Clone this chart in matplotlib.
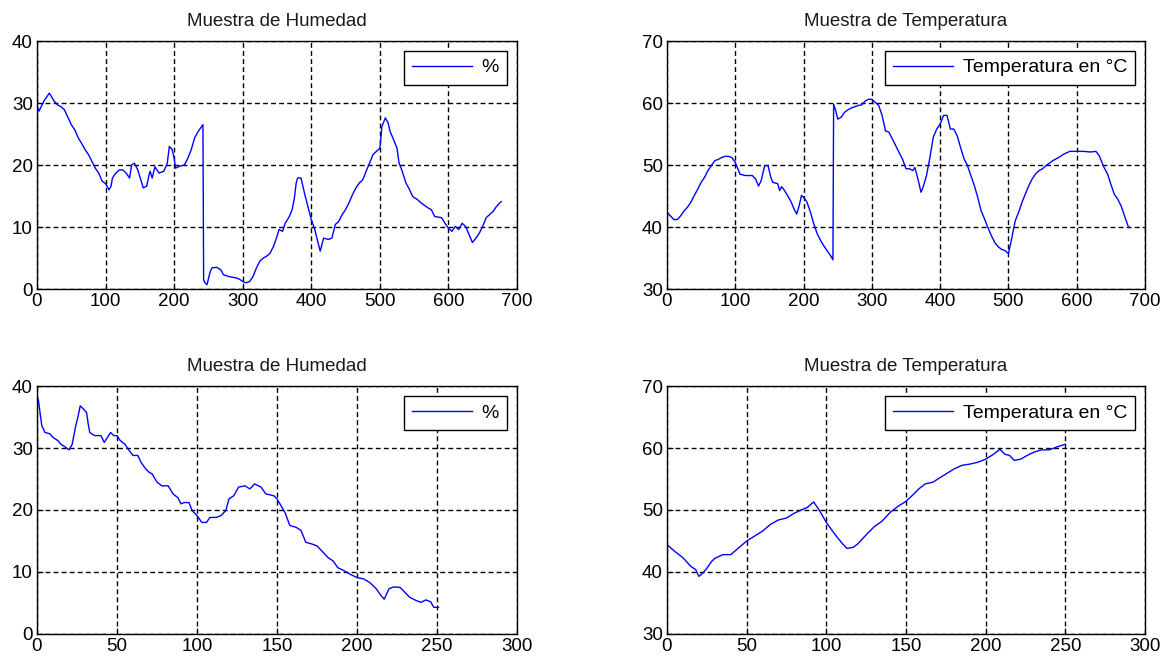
import matplotlib
matplotlib.use("Agg")
import matplotlib.pyplot as plt

plt.rcParams['font.family'] = ['Liberation Sans', 'DejaVu Sans']

# ---- data: top-left humidity (%) ----
hum1_x = [0, 3, 10, 18, 25, 30, 35, 40, 45, 50, 55, 60, 65, 70, 75, 80, 85, 90, 95, 100,
          105, 108, 110, 115, 120, 125, 130, 135, 138, 142, 147, 152, 155, 160, 163, 165,
          168, 172, 178, 185, 190, 193, 197, 200, 202, 208, 215, 220, 225, 230, 235, 240,
          242, 243, 245, 248, 252, 255, 262, 268, 272, 280, 290, 295, 300, 305, 310, 315,
          320, 325, 330, 335, 340, 345, 350, 353, 358, 362, 368, 372, 375, 378, 380, 385,
          390, 395, 400, 405, 410, 413, 418, 425, 430, 435, 440, 445, 450, 455, 460, 465,
          470, 475, 480, 485, 490, 495, 500, 503, 508, 512, 515, 520, 525, 528, 532, 538,
          542, 548, 555, 560, 570, 575, 580, 590, 595, 600, 605, 610, 615, 620, 625, 630,
          635, 640, 645, 650, 655, 660, 665, 670, 675, 677]
hum1_y = [29.6, 28.7, 30.3, 31.6, 30.3, 29.7, 29.4, 28.9, 27.7, 26.5, 25.7, 24.4, 23.5, 22.5,
          21.7, 20.6, 19.5, 18.7, 17.4, 17.0, 16.0, 16.6, 17.9, 18.7, 19.2, 19.2, 18.7, 17.9,
          20.0, 20.3, 19.2, 17.4, 16.3, 16.6, 18.2, 19.0, 17.9, 19.7, 18.7, 19.0, 20.3, 23.0,
          22.5, 21.1, 19.5, 19.8, 20.0, 21.1, 22.5, 24.4, 25.4, 26.2, 26.5, 1.5, 1.0, 0.7,
          2.6, 3.4, 3.5, 3.1, 2.3, 2.0, 1.8, 1.6, 1.2, 1.0, 1.2, 2.0, 3.4, 4.5, 5.0, 5.3,
          5.8, 6.9, 8.5, 9.6, 9.3, 10.6, 11.7, 12.8, 14.4, 17.1, 17.9, 17.9, 15.5, 13.3,
          11.2, 9.6, 7.4, 6.1, 8.2, 8.0, 8.2, 10.4, 10.9, 12.0, 12.8, 13.9, 15.2, 16.3,
          17.1, 17.6, 19.0, 20.3, 21.7, 22.2, 22.7, 26.2, 27.6, 26.8, 25.4, 24.1, 22.7,
          20.3, 19.2, 17.1, 16.3, 14.9, 14.4, 13.9, 13.1, 12.8, 11.7, 11.5, 10.6, 9.8, 9.3,
          10.1, 9.6, 10.6, 10.1, 8.8, 7.5, 8.2, 9.0, 10.1, 11.5, 12.0, 12.5, 13.3, 13.9, 14.1]

# ---- data: top-right temperature (°C) ----
temp1_x = [0, 5, 10, 15, 20, 25, 30, 35, 40, 45, 50, 55, 60, 65, 70, 75, 80, 85, 90, 95,
           100, 103, 107, 115, 125, 130, 134, 138, 143, 148, 152, 155, 162, 165, 168, 172,
           178, 182, 186, 190, 193, 197, 200, 205, 210, 215, 220, 225, 230, 235, 240, 243,
           244, 247, 250, 255, 260, 265, 270, 280, 285, 290, 295, 300, 305, 310, 315, 320,
           325, 330, 335, 340, 345, 350, 355, 360, 363, 368, 372, 375, 380, 385, 390, 395,
           400, 405, 410, 415, 420, 425, 430, 435, 440, 445, 450, 455, 460, 465, 470, 475,
           480, 485, 490, 495, 500, 503, 507, 510, 515, 520, 525, 530, 535, 540, 545, 550,
           555, 560, 565, 570, 575, 580, 590, 600, 610, 620, 628, 633, 637, 640, 645, 650,
           655, 660, 665, 670, 675, 677]
temp1_y = [42.4, 41.8, 41.2, 41.2, 41.8, 42.6, 43.2, 44.0, 45.1, 46.1, 47.2, 48.0, 49.1,
           49.9, 50.7, 50.9, 51.2, 51.4, 51.4, 51.2, 50.4, 49.6, 48.5, 48.3, 48.3, 47.7,
           46.6, 47.5, 49.9, 49.9, 48.0, 47.2, 47.0, 45.9, 46.5, 45.9, 44.8, 44.0, 42.9,
           42.1, 43.2, 45.1, 44.8, 44.0, 42.4, 40.5, 38.9, 37.8, 36.9, 36.1, 35.3, 34.7,
           59.8, 58.8, 57.4, 57.7, 58.5, 58.9, 59.2, 59.6, 59.7, 60.3, 60.6, 60.6, 60.1,
           59.6, 58.0, 55.5, 55.3, 54.2, 53.1, 52.0, 50.9, 49.4, 49.4, 49.1, 49.6, 47.5,
           45.6, 46.4, 48.3, 51.2, 54.5, 55.8, 56.6, 58.0, 58.0, 55.8, 55.8, 54.7, 52.8,
           51.0, 49.9, 48.3, 46.7, 44.8, 42.6, 41.3, 39.9, 38.6, 37.5, 36.8, 36.4, 36.2,
           35.7, 37.2, 39.4, 41.0, 42.4, 44.0, 45.4, 46.7, 47.8, 48.6, 49.1, 49.4, 49.9,
           50.3, 50.7, 51.0, 51.3, 51.7, 52.2, 52.2, 52.2, 52.1, 52.2, 51.5, 50.4, 49.6,
           48.6, 46.9, 45.3, 44.5, 43.4, 41.8, 40.2, 39.9]

# ---- data: bottom-left humidity (%) ----
hum2_x = [0, 1, 2, 3, 5, 8, 10, 13, 15, 18, 20, 22, 24, 26, 27, 29, 31, 32, 33, 36, 40,
          42, 44, 46, 48, 50, 52, 55, 57, 60, 63, 65, 68, 70, 72, 75, 78, 82, 85, 88, 90,
          92, 95, 97, 100, 103, 106, 108, 112, 115, 118, 120, 123, 126, 130, 133, 136,
          140, 143, 148, 150, 155, 158, 162, 165, 168, 172, 175, 178, 182, 185, 188, 192,
          196, 200, 204, 208, 212, 215, 217, 220, 223, 227, 230, 233, 237, 240, 243, 246,
          248, 251]
hum2_y = [38.5, 37.5, 35.5, 33.6, 32.5, 32.3, 31.7, 31.2, 30.6, 30.1, 29.7, 30.6, 33.3,
          35.5, 36.8, 36.3, 35.7, 33.9, 32.5, 32.0, 32.0, 30.9, 31.7, 32.5, 32.0, 32.0,
          31.2, 30.6, 29.8, 28.8, 28.8, 27.7, 26.6, 26.1, 25.8, 24.5, 23.9, 23.9, 22.6,
          22.0, 21.0, 21.2, 21.2, 19.9, 19.1, 18.0, 18.0, 18.8, 18.8, 19.1, 19.9, 21.8,
          22.3, 23.7, 23.9, 23.4, 24.2, 23.7, 22.6, 22.3, 21.8, 19.6, 17.5, 17.2, 16.7,
          14.8, 14.5, 14.2, 13.4, 12.3, 11.8, 10.7, 10.2, 9.6, 9.1, 8.9, 8.3, 7.3, 6.2,
          5.6, 7.3, 7.6, 7.5, 6.7, 5.9, 5.4, 5.1, 5.5, 5.2, 4.3, 4.3]

# ---- data: bottom-right temperature (°C) ----
temp2_x = [0, 5, 10, 15, 18, 20, 22, 25, 28, 30, 35, 40, 45, 50, 55, 60, 65, 70, 75, 80,
           85, 88, 92, 95, 100, 105, 110, 113, 117, 120, 125, 130, 135, 140, 145, 150, 155,
           158, 162, 167, 170, 175, 180, 185, 190, 195, 200, 205, 209, 212, 215, 218, 222,
           226, 230, 235, 240, 245, 250]
temp2_y = [44.4, 43.3, 42.3, 40.9, 40.4, 39.3, 39.7, 40.6, 41.7, 42.2, 42.8, 42.8, 43.9,
           45.0, 45.8, 46.6, 47.7, 48.4, 48.7, 49.5, 50.1, 50.4, 51.3, 50.2, 48.0, 46.2,
           44.6, 43.8, 44.0, 44.6, 46.0, 47.3, 48.2, 49.6, 50.6, 51.4, 52.6, 53.4, 54.2,
           54.5, 55.0, 55.8, 56.6, 57.2, 57.4, 57.7, 58.2, 59.0, 59.8, 59.0, 58.8, 58.0,
           58.2, 58.8, 59.3, 59.7, 59.7, 60.2, 60.6]

titles = ["Muestra de Humedad", "Muestra de Temperatura"]
labels = ["%", "Temperatura en °C"]

W, H = 1170, 661
fig = plt.figure(figsize=(W / 100, H / 100), dpi=100)

def add_ax(x0, y0, x1, y1):
    return fig.add_axes([x0 / W, 1 - y1 / H, (x1 - x0) / W, (y1 - y0) / H])

axes = [
    add_ax(37, 41, 517, 289),
    add_ax(667, 41, 1145, 289),
    add_ax(37, 386, 517, 634),
    add_ax(667, 386, 1145, 634),
]

specs = [
    (hum1_x, hum1_y, titles[0], labels[0], (0, 700, 100), (0, 40, 10)),
    (temp1_x, temp1_y, titles[1], labels[1], (0, 700, 100), (30, 70, 10)),
    (hum2_x, hum2_y, titles[0], labels[0], (0, 300, 50), (0, 40, 10)),
    (temp2_x, temp2_y, titles[1], labels[1], (0, 300, 50), (30, 70, 10)),
]

for ax, (x, y, title, lab, xr, yr) in zip(axes, specs):
    ax.plot(x, y, color=(0, 0, 1), lw=1.0, label=lab)
    ax.set_xlim(xr[0], xr[1])
    ax.set_ylim(yr[0], yr[1])
    ax.set_xticks(list(range(xr[0], xr[1] + 1, xr[2])))
    ax.set_yticks(list(range(yr[0], yr[1] + 1, yr[2])))
    ax.grid(True, color='black', linestyle=(0, (3.5, 2.3)), linewidth=1.0)
    ax.tick_params(direction='in', length=4, labelsize=13.5, colors='black', pad=3)
    for s in ax.spines.values():
        s.set_linewidth(1.0)
        s.set_color('black')
    ax.set_title(title, fontsize=13.5, pad=11, color='#1a1a1a')
    leg = ax.legend(loc='upper right', fontsize=14, handlelength=3.1, handletextpad=0.5,
                    borderaxespad=0.5, fancybox=False, framealpha=1, borderpad=0.42)
    leg.get_frame().set_edgecolor('black')
    leg.get_frame().set_linewidth(1.0)

fig.savefig("out.png", dpi=100)
